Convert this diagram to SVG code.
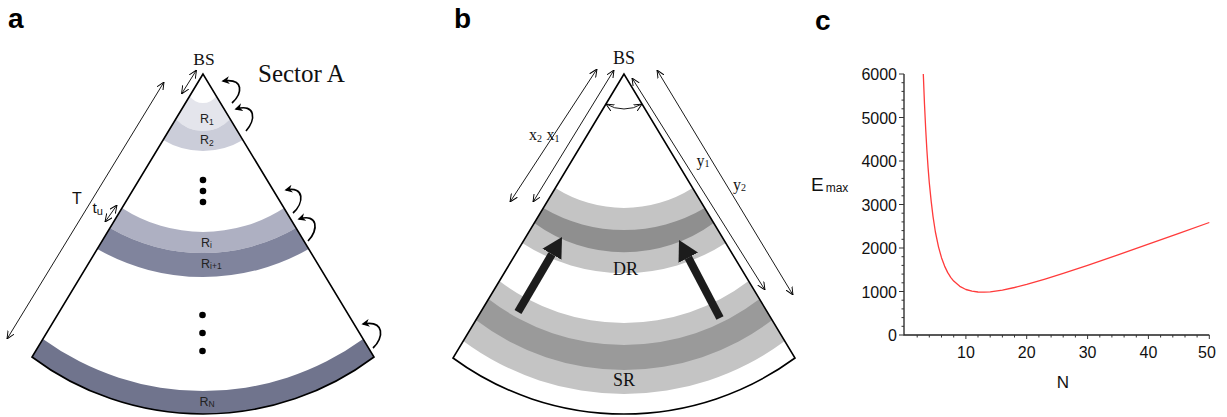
<svg xmlns="http://www.w3.org/2000/svg" width="1227" height="417" viewBox="0 0 1227 417">
  <style>
    .panel { font-family: "Liberation Sans", Arial, sans-serif; font-weight: bold; font-size: 28px; fill: #000; }
    .serif { font-family: "Liberation Serif", "Times New Roman", serif; fill: #111; }
    .sans { font-family: "Liberation Sans", Arial, sans-serif; fill: #111; }
    .rlab { font-family: "Liberation Sans", Arial, sans-serif; font-size: 12.5px; fill: #222; }
    .outline { fill: none; stroke: #000; stroke-width: 1.6; stroke-linejoin: miter; }
    .dim { fill: none; stroke: #000; stroke-width: 0.9; marker-start: url(#open); marker-end: url(#open); }
    .curl { fill: none; stroke: #000; stroke-width: 1.7; marker-end: url(#barb); }
    .push { stroke: #1c1c1c; stroke-width: 8; marker-end: url(#bighead); }
    .axis { stroke: #222; stroke-width: 1.3; fill: none; }
    .tick { stroke: #333; stroke-width: 1; fill: none; }
    .tl { font-family: "Liberation Sans", Arial, sans-serif; font-size: 16px; fill: #111; }
  </style>
  <defs>
    <marker id="open" viewBox="0 0 10 10" refX="10" refY="5" markerUnits="userSpaceOnUse" markerWidth="8" markerHeight="8" orient="auto-start-reverse">
      <path d="M0,0.5 L10,5 L0,9.5" fill="none" stroke="#000" stroke-width="1.2"/>
    </marker>
    <marker id="barb" viewBox="0 0 10 10" refX="8" refY="5" markerUnits="userSpaceOnUse" markerWidth="8" markerHeight="8" orient="auto">
      <path d="M0,0 L10,5 L0,10 L3,5 Z" fill="#000"/>
    </marker>
    <marker id="bighead" viewBox="0 0 20 22" refX="0" refY="11" markerUnits="userSpaceOnUse" markerWidth="20" markerHeight="22" orient="auto">
      <path d="M0,0 L20,11 L0,22 Z" fill="#1c1c1c"/>
    </marker>
  </defs>

  <!-- panel letters -->
  <text class="panel" x="8" y="28">a</text>
  <text class="panel" x="454" y="28">b</text>
  <text class="panel" x="815" y="29.5">c</text>

  <!-- ===== a: sector split into rings ===== -->
  <g id="sector-a">
    <path id="ring-R1" d="M189.7,96 A16.1,16.1 0 0 0 216.3,96 L230.2,119 A36.8,36.8 0 0 1 175.8,119 Z" fill="#e4e5ec"/>
    <path id="ring-R2" d="M175.8,119 A36.8,36.8 0 0 0 230.2,119 L242.9,140 A77.9,77.9 0 0 1 163.1,140 Z" fill="#cbcdd9"/>
    <path id="ring-Ri" d="M122,208 A148.7,148.7 0 0 0 284,208 L296,228 A185.5,185.5 0 0 1 110,228 Z" fill="#aeb0c2"/>
    <path id="ring-Ri1" d="M110,228 A185.5,185.5 0 0 0 296,228 L308.7,249 A213.5,213.5 0 0 1 97.3,249 Z" fill="#80849d"/>
    <path id="ring-RN" d="M42.9,339 A272.5,272.5 0 0 0 363.1,339 L374,357 A285,285 0 0 1 32,357 Z" fill="#70748d"/>
    <path class="outline" d="M203,74 L32,357 A285,285 0 0 0 374,357 Z"/>
    <g fill="#000">
      <circle cx="203" cy="180" r="3.3"/>
      <circle cx="203" cy="191" r="3.3"/>
      <circle cx="203" cy="202" r="3.3"/>
      <circle cx="202.5" cy="315" r="3.3"/>
      <circle cx="202.5" cy="333" r="3.3"/>
      <circle cx="202.5" cy="351" r="3.3"/>
    </g>
    <text class="rlab" x="200" y="123">R<tspan font-size="8.5" dy="2">1</tspan></text>
    <text class="rlab" x="200" y="143.5">R<tspan font-size="8.5" dy="2">2</tspan></text>
    <text class="rlab" x="201" y="247">R<tspan font-size="8.5" dy="1">i</tspan></text>
    <text class="rlab" x="201" y="267.5">R<tspan font-size="8.5" dy="1">i+1</tspan></text>
    <text class="rlab" x="199.5" y="406">R<tspan font-size="8.5" dy="1">N</tspan></text>
    <text class="serif" x="204" y="65" font-size="17.5" text-anchor="middle">BS</text>
    <text class="serif" x="258" y="81.5" font-size="25">Sector A</text>
    <text class="sans" x="72" y="203.5" font-size="16">T</text>
    <text class="sans" x="92.5" y="213" font-size="15.5">t<tspan font-size="11" dy="2">u</tspan></text>
  </g>

  <!-- ===== b: source and destination rings ===== -->
  <g id="sector-b">
    <path id="ring-DR" d="M555.4,188 A128,128 0 0 0 692.6,188 L725.8,243 A187.4,187.4 0 0 1 522.2,243 Z" fill="#c4c4c4"/>
    <path id="ring-DR-core" d="M543.3,208 A159,159 0 0 0 704.7,208 L713.7,223 A152,152 0 0 1 534.3,223 Z" fill="#8f8f8f"/>
    <path id="ring-SR" d="M499.4,281 A205.8,205.8 0 0 0 748.6,281 L784.8,341 A270.4,270.4 0 0 1 463.2,341 Z" fill="#c4c4c4"/>
    <path id="ring-SR-core" d="M488.5,299 A222.6,222.6 0 0 0 759.5,299 L772.1,320 A244.3,244.3 0 0 1 475.9,320 Z" fill="#9a9a9a"/>
    <path class="outline" stroke-width="2" d="M624,74 L453,358 A289.1,289.1 0 0 0 795,358 Z"/>
    <text class="serif" x="624" y="64" font-size="18" text-anchor="middle">BS</text>
    <text class="serif" x="625.5" y="275" font-size="18" text-anchor="middle">DR</text>
    <text class="serif" x="624" y="385.5" font-size="18" text-anchor="middle">SR</text>
    <text class="serif" x="529" y="140" font-size="16">x<tspan font-size="10" dy="2">2</tspan></text>
    <text class="serif" x="546.5" y="140" font-size="16">x<tspan font-size="10" dy="2">1</tspan></text>
    <text class="serif" x="696.5" y="166" font-size="16">y<tspan font-size="10" dy="1">1</tspan></text>
    <text class="serif" x="733" y="190" font-size="16">y<tspan font-size="10" dy="1">2</tspan></text>
  </g>

  <!-- ===== c: E_max against N ===== -->
  <g id="plot-c">
    <path class="axis" d="M904,74 V335 H1209.3"/>
    <path class="tick" d="M899,74H904M899,117.5H904M899,161H904M899,204.5H904M899,248H904M899,291.5H904M899,335H904"/>
    <path class="tick" d="M901.5,326.3H904M901.5,317.6H904M901.5,308.9H904M901.5,300.2H904M901.5,282.8H904M901.5,274.1H904M901.5,265.4H904M901.5,256.7H904M901.5,239.3H904M901.5,230.6H904M901.5,221.9H904M901.5,213.2H904M901.5,195.8H904M901.5,187.1H904M901.5,178.4H904M901.5,169.7H904M901.5,152.3H904M901.5,143.6H904M901.5,134.9H904M901.5,126.2H904M901.5,108.8H904M901.5,100.1H904M901.5,91.4H904M901.5,82.7H904"/>
    <path class="tick" d="M917.2,335V337.5M929.3,335V337.5M941.5,335V337.5M953.7,335V337.5M978,335V337.5M990.2,335V337.5M1002.4,335V337.5M1014.5,335V337.5M1038.9,335V337.5M1051.1,335V337.5M1063.2,335V337.5M1075.4,335V337.5M1099.8,335V337.5M1111.9,335V337.5M1124.1,335V337.5M1136.3,335V337.5M1160.6,335V337.5M1172.8,335V337.5M1185,335V337.5M1197.1,335V337.5"/>
    <path class="tick" d="M965.9,335V339M1026.7,335V339M1087.6,335V339M1148.4,335V339M1209.3,335V339"/>
    <g class="tl" text-anchor="end">
      <text x="897" y="80">6000</text>
      <text x="897" y="123.5">5000</text>
      <text x="897" y="167">4000</text>
      <text x="897" y="210.5">3000</text>
      <text x="897" y="254">2000</text>
      <text x="897" y="297.5">1000</text>
      <text x="897" y="341">0</text>
    </g>
    <g class="tl" text-anchor="middle">
      <text x="965.9" y="358">10</text>
      <text x="1026.7" y="358">20</text>
      <text x="1087.6" y="358">30</text>
      <text x="1148.4" y="358">40</text>
      <text x="1207" y="358">50</text>
    </g>
    <text class="sans" x="811" y="191" font-size="19">E<tspan font-size="12" dx="2" dy="1">max</tspan></text>
    <text class="sans" x="1063" y="388" font-size="17" text-anchor="middle">N</text>
    <polyline id="curve" fill="none" stroke="#ff3b3b" stroke-width="1.3" stroke-linejoin="round"
      points="923.3,74 924.5,104.3 925.7,129.3 926.9,150.3 928.1,167.9 929.3,182.8 931.2,201.4 933,216.3 935.4,232 938.5,246.8 941.5,257.7 944.6,266.1 947.6,272.4 950.7,277.3 953.7,281.1 959.8,286.3 965.9,289.5 972,291.2 978,292 984.1,292.2 990.2,291.8 1002.4,290.1 1014.5,287.5 1026.7,284.4 1045,279.1 1063.2,273.4 1087.6,265.4 1118,254.9 1148.4,244.2 1178.9,233.4 1209.3,222.5"/>
  </g>

  <!-- ===== connectors: dimension lines, hand-off arrows, movement arrows ===== -->
  <g id="connectors">
    <line class="dim" x1="7" y1="339" x2="164" y2="82"/>
    <line class="dim" x1="105" y1="222" x2="117" y2="205"/>
    <line class="dim" x1="181.5" y1="94" x2="196.5" y2="70"/>
    <path class="curl" d="M232,103 C242,94 245,78 223,81"/>
    <path class="curl" d="M246,131 C256,120 256,103 236,109"/>
    <path class="curl" d="M293,213 C304,203 305,186 286,190"/>
    <path class="curl" d="M308,241 C319,230 318,213 299,219"/>
    <path class="curl" d="M373,348 C384,338 385,320 363,324"/>

    <line class="dim" x1="597" y1="69" x2="510" y2="202"/>
    <line class="dim" x1="614" y1="70" x2="533" y2="202"/>
    <line class="dim" x1="632" y1="78" x2="765" y2="290"/>
    <line class="dim" x1="657" y1="70" x2="793" y2="295"/>
    <path class="dim" d="M606,104 A35,35 0 0 0 642,104"/>
    <line class="push" x1="518" y1="312" x2="551.9" y2="254.2"/>
    <line class="push" x1="720" y1="318" x2="688.3" y2="257.7"/>
  </g>
</svg>
